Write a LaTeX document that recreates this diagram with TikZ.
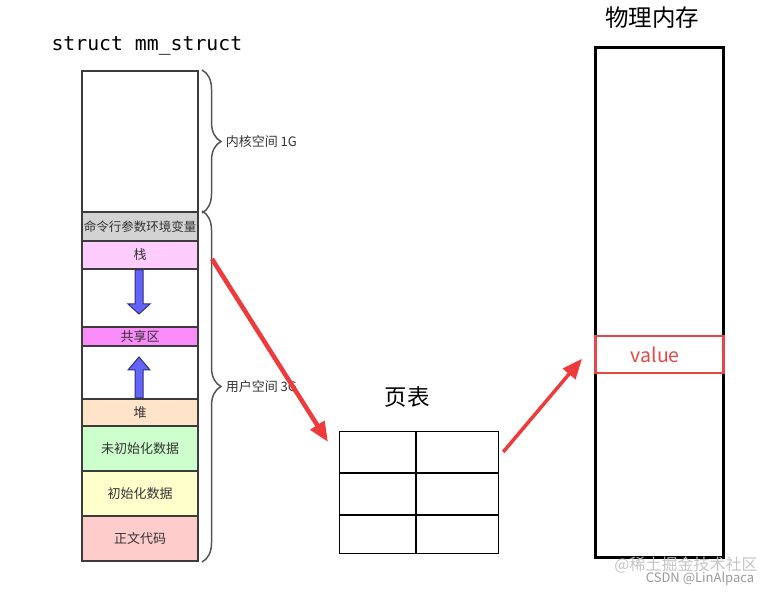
\documentclass[tikz,border=0pt]{standalone}
\usepackage{fontspec}
\setmainfont{Noto Sans CJK SC}
\newfontfamily\codefont{DejaVu Sans Mono}
\usetikzlibrary{arrows.meta,decorations.pathreplacing}
\definecolor{segline}{HTML}{3C3C3C}
\definecolor{labelgray}{HTML}{333333}
\definecolor{bracegray}{HTML}{555555}
\definecolor{envgray}{HTML}{D3D3D3}
\definecolor{stackpink}{HTML}{FFCCFF}
\definecolor{sharepink}{HTML}{FA8CFA}
\definecolor{heappeach}{HTML}{FFE4CA}
\definecolor{bssgreen}{HTML}{CCFFCC}
\definecolor{datayellow}{HTML}{FFFFCC}
\definecolor{codered}{HTML}{FFCCCC}
\definecolor{blockblue}{HTML}{6464FA}
\definecolor{blockedge}{HTML}{30307A}
\definecolor{arrowred}{HTML}{EE3A3A}
\definecolor{valred}{HTML}{E64646}
\definecolor{wmgray}{HTML}{C4C4C4}
\definecolor{wmdark}{HTML}{9A9A9A}
\tikzset{
  seg/.style={draw=segline, line width=2pt, minimum width=116pt, inner sep=0pt,
    anchor=north west, text=labelgray, font=\fontsize{13}{13}\selectfont},
  memlabel/.style={font=\fontsize{22.5}{22.5}\selectfont},
  spacebrace/.style={decorate, decoration={brace, amplitude=19pt, aspect=0.5},
    draw=bracegray, line width=1.5pt},
  bracelabel/.style={right=22pt, inner sep=1pt, text=labelgray,
    font=\fontsize{13}{13}\selectfont},
  redarrow/.style={draw=arrowred, line width=4.5pt, -{Triangle[length=20pt,width=16pt]}},
  blockarrow/.style={fill=blockblue, draw=blockedge, line width=1pt},
}
\begin{document}
\begin{tikzpicture}[x=1pt, y=-1pt]
\useasboundingbox (0,0) rectangle (774,593);
% mm_struct
\node[anchor=west, font=\codefont\fontsize{19.8}{19.8}\selectfont] (mmtitle) at (48,46) {struct mm\_struct};
\foreach \name/\top/\h/\col/\txt in {kern/70/141/white/{}, env/211/29/envgray/{\fontsize{12.5}{12.5}\selectfont 命令行参数环境变量},
    zhan/240/28/stackpink/栈, gap1/268/58/white/{}, share/326/19/sharepink/共享区,
    gap2/345/53/white/{}, dui/398/27/heappeach/堆, bss/425/45/bssgreen/未初始化数据,
    data/470/45/datayellow/初始化数据, code/515/45/codered/正文代码} {
  \node[seg, fill=\col, minimum height=\h pt] (\name) at (81,\top) {\txt};
}
\filldraw[blockarrow] (135,270) -- (143,270) -- (143,304) -- (150,304) -- (139,314) -- (128,304) -- (135,304) -- cycle;
\filldraw[blockarrow] (135,398) -- (143,398) -- (143,370) -- (150,370) -- (139,357) -- (128,370) -- (135,370) -- cycle;
\draw[spacebrace] ([xshift=3pt]kern.north east) -- ([xshift=3pt]kern.south east)
  node[midway, bracelabel] {内核空间 1G};
\draw[spacebrace] ([xshift=3pt]env.north east) -- ([xshift=3pt]code.south east)
  node[midway, bracelabel] {用户空间 3G};

% page table
\node[memlabel] (ptlabel) at (407,397) {页表};
\node[draw, line width=1.2pt, minimum width=159pt, minimum height=122pt, anchor=north west, inner sep=0pt] (ptab) at (339,431) {};
\draw[line width=2pt] ([xshift=77pt]ptab.north west) -- ([xshift=77pt]ptab.south west);
\draw[line width=1.2pt] ([yshift=-42pt]ptab.north west) -- ([yshift=-42pt]ptab.north east);
\draw[line width=1.2pt] ([yshift=-84pt]ptab.north west) -- ([yshift=-84pt]ptab.north east);

% physical memory
\node[memlabel, font=\fontsize{23.5}{23.5}\selectfont] (physlabel) at (652,18) {物理内存};
\node[draw, line width=3pt, minimum width=128pt, minimum height=510pt, anchor=north west, inner sep=0pt] (phys) at (594,46) {};
\node[draw=valred, line width=2.5pt, minimum width=128pt, minimum height=37pt, anchor=north west, inner sep=0pt,
  text=valred, font=\fontsize{19.5}{19.5}\selectfont] (val) at (594,335) {\hspace*{-8pt}value};

\draw[redarrow] ([shift={(13,4)}]zhan.east) -- ([shift={(-11,11)}]ptab.north west);
\draw[redarrow, line width=3.5pt] ([shift={(4,21)}]ptab.north east) -- ([shift={(-12,4)}]val.west);

\node[text=wmgray, inner sep=0pt, font=\fontsize{16}{16}\selectfont] (wm1) at (686,565) {@稀土掘金技术社区};
\node[text=wmdark, inner sep=0pt, font=\fontsize{13}{13}\selectfont] (wm2) at (700,579) {CSDN @LinAlpaca};
\end{tikzpicture}
\end{document}
